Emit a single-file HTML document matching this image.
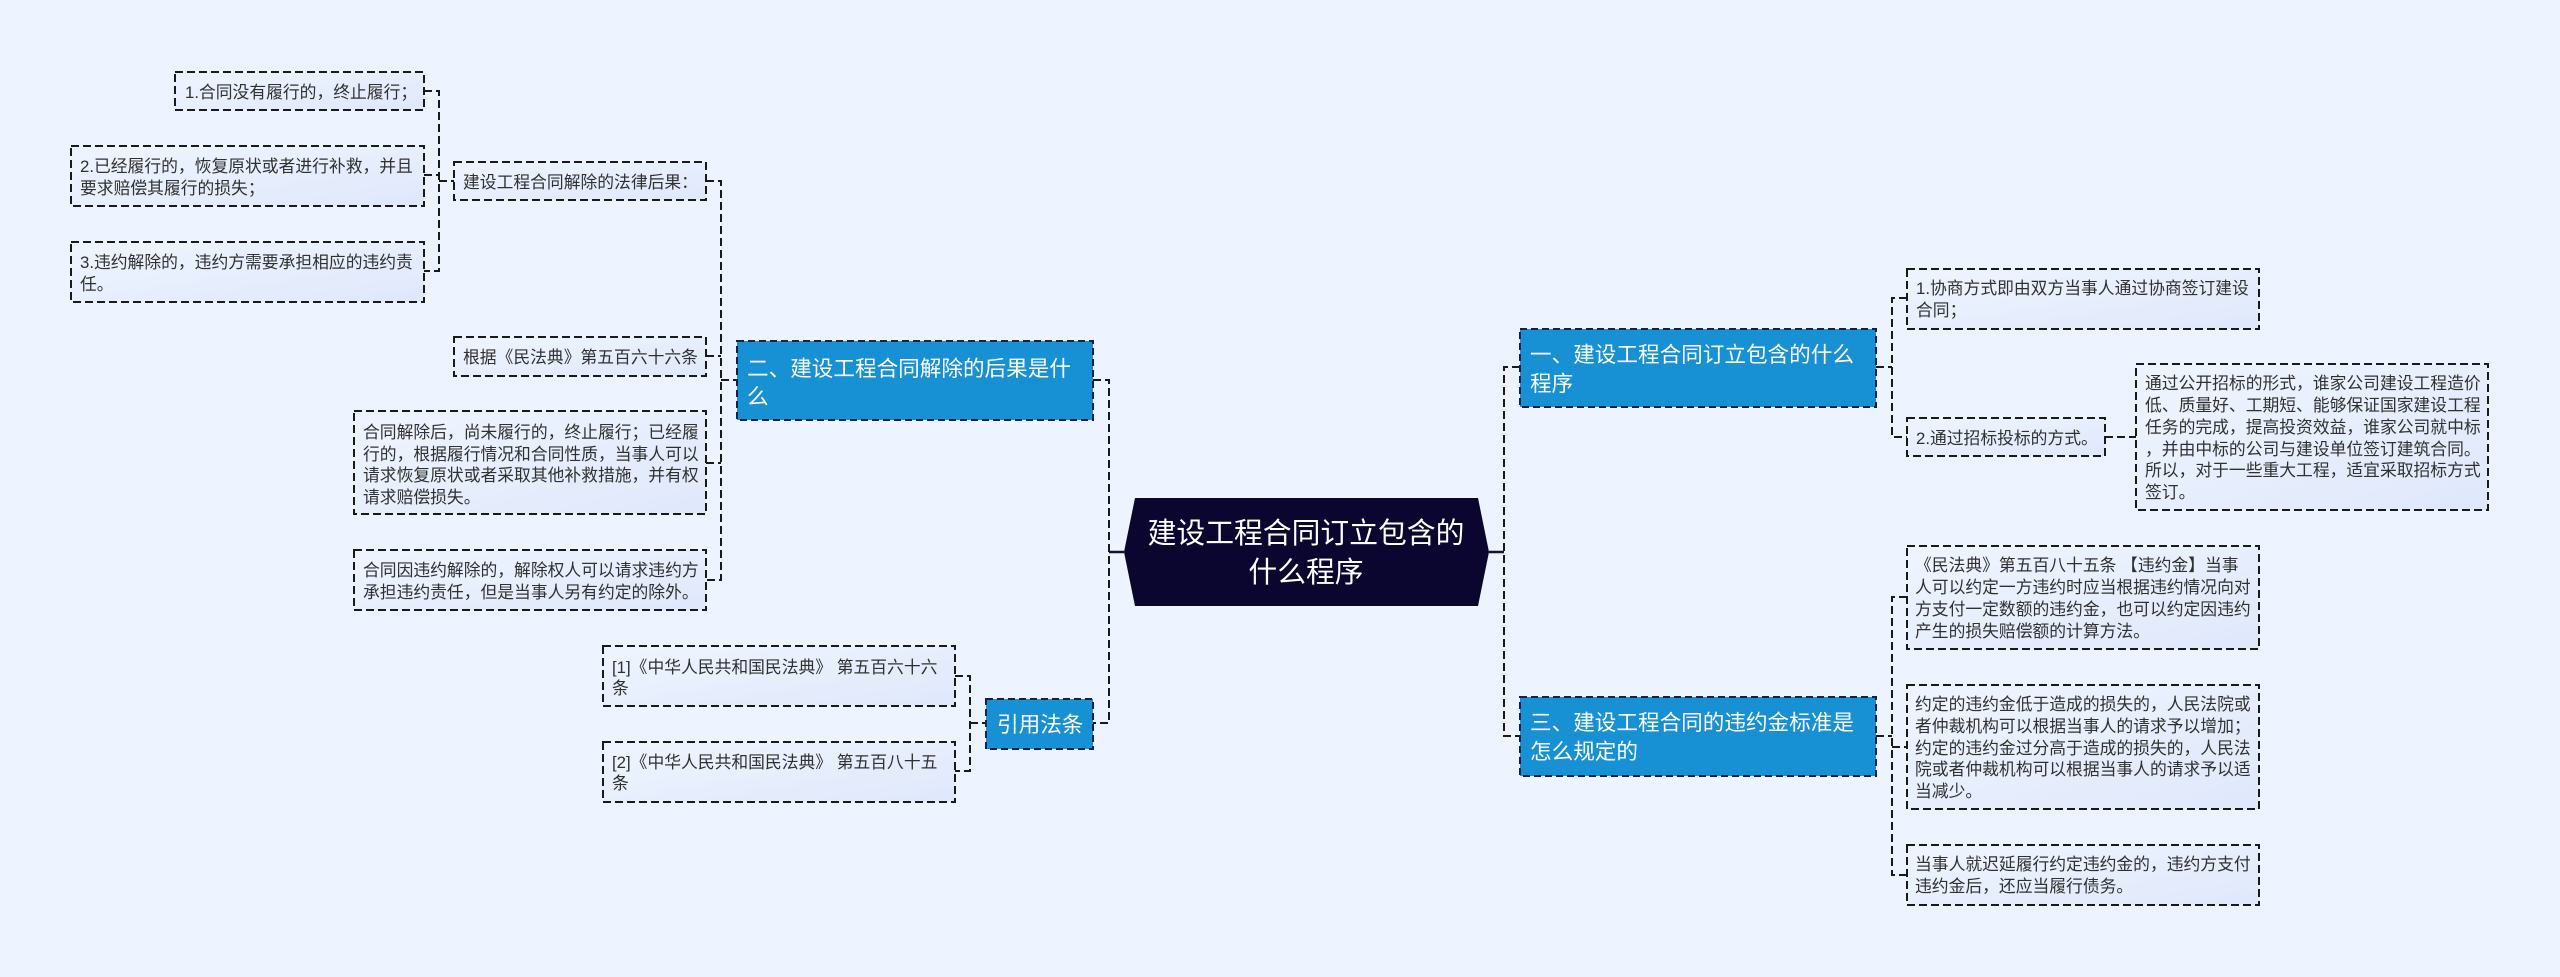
<!DOCTYPE html>
<html lang="zh"><head><meta charset="utf-8"><title>建设工程合同订立包含的什么程序</title>
<style>
html,body{margin:0;padding:0;background:#eef4ff;width:2560px;height:977px;overflow:hidden}
svg{display:block}
text{font-family:"Liberation Sans","Noto Sans CJK SC",sans-serif}
.b{fill:url(#g);stroke:#1a1a1a;stroke-width:2;stroke-dasharray:8 4}
.m{fill:#1791d3;stroke:#0f2050;stroke-width:2;stroke-dasharray:7 4}
.c{fill:none;stroke:#1a1a1a;stroke-width:2;stroke-dasharray:8 4}
.s{font-size:16.8px;fill:#303030}
.l{font-size:21.6px;fill:#fff}
.r{font-size:28.8px;fill:#fff;text-anchor:middle}
</style></head><body>
<svg width="2560" height="977" viewBox="0 0 2560 977" xmlns="http://www.w3.org/2000/svg">
<defs><linearGradient id="g" x1="0" y1="0" x2="1" y2="1"><stop offset="0" stop-color="#eff5ff"/><stop offset="1" stop-color="#dfe8fb"/></linearGradient></defs>
<rect width="2560" height="977" fill="#eef4ff"/>

<!-- connectors -->
<path class="c" d="M424 91H439V271H424M424 175H439M439 181H454"/>
<path class="c" d="M706 181H721V580H706M706 356H721M706 463H721M721 380H737"/>
<path class="c" d="M955 676H970V771H955M970 723H986"/>
<path class="c" d="M1093 380H1109V723H1093"/>
<path class="c" d="M1520 367H1504V736H1520"/>
<path class="c" d="M1876 367H1892M1907 298H1892V437H1907M2105 437H2136"/>
<path class="c" d="M1876 736H1892M1907 597H1892V875H1907M1892 747H1907"/>
<path d="M1109 552H1124M1489 552H1504" fill="none" stroke="#14122e" stroke-width="2.5"/>

<!-- boxes -->
<rect class="b" x="175" y="72" width="249" height="38"/>
<rect class="b" x="71" y="146" width="353" height="60"/>
<rect class="b" x="71" y="242" width="353" height="60"/>
<rect class="b" x="454" y="162" width="252" height="38"/>
<rect class="b" x="454" y="337" width="252" height="39"/>
<rect class="b" x="354" y="411" width="352" height="103"/>
<rect class="b" x="354" y="550" width="352" height="60"/>
<rect class="b" x="603" y="646" width="352" height="60"/>
<rect class="b" x="603" y="742" width="352" height="60"/>
<rect class="b" x="1907" y="269" width="352" height="60"/>
<rect class="b" x="1907" y="418" width="198" height="38"/>
<rect class="b" x="2136" y="364" width="352" height="146"/>
<rect class="b" x="1907" y="546" width="352" height="103"/>
<rect class="b" x="1907" y="685" width="352" height="124"/>
<rect class="b" x="1907" y="845" width="352" height="60"/>

<rect class="m" x="737" y="341" width="356" height="79"/>
<rect class="m" x="986" y="699" width="107" height="50"/>
<rect class="m" x="1520" y="329" width="356" height="78"/>
<rect class="m" x="1520" y="697" width="356" height="79"/>
<polygon points="1124,552 1135,498 1478,498 1489,552 1478,606 1135,606" fill="#0a0630"/>

<!-- text -->
<text class="r" x="1306" y="543">建设工程合同订立包含的</text>
<text class="r" x="1306" y="582">什么程序</text>

<text class="l" x="747" y="376">二、建设工程合同解除的后果是什</text>
<text class="l" x="747" y="404">么</text>
<text class="l" x="997" y="732">引用法条</text>
<text class="l" x="1530" y="362">一、建设工程合同订立包含的什么</text>
<text class="l" x="1530" y="391">程序</text>
<text class="l" x="1530" y="730">三、建设工程合同的违约金标准是</text>
<text class="l" x="1530" y="759">怎么规定的</text>

<text class="s" x="185" y="98">1.合同没有履行的，终止履行；</text>
<text class="s" x="80" y="172">2.已经履行的，恢复原状或者进行补救，并且</text>
<text class="s" x="80" y="194">要求赔偿其履行的损失；</text>
<text class="s" x="80" y="268">3.违约解除的，违约方需要承担相应的违约责</text>
<text class="s" x="80" y="290">任。</text>
<text class="s" x="463" y="188">建设工程合同解除的法律后果：</text>
<text class="s" x="463" y="363">根据《民法典》第五百六十六条</text>
<text class="s" x="363" y="438">合同解除后，尚未履行的，终止履行；已经履</text>
<text class="s" x="363" y="460">行的，根据履行情况和合同性质，当事人可以</text>
<text class="s" x="363" y="481">请求恢复原状或者采取其他补救措施，并有权</text>
<text class="s" x="363" y="503">请求赔偿损失。</text>
<text class="s" x="363" y="576">合同因违约解除的，解除权人可以请求违约方</text>
<text class="s" x="363" y="598">承担违约责任，但是当事人另有约定的除外。</text>
<text class="s" x="612" y="673">[1]《中华人民共和国民法典》 第五百六十六</text>
<text class="s" x="612" y="694">条</text>
<text class="s" x="612" y="768">[2]《中华人民共和国民法典》 第五百八十五</text>
<text class="s" x="612" y="789">条</text>

<text class="s" x="1916" y="294">1.协商方式即由双方当事人通过协商签订建设</text>
<text class="s" x="1916" y="316">合同；</text>
<text class="s" x="1916" y="444">2.通过招标投标的方式。</text>
<text class="s" x="2145" y="389">通过公开招标的形式，谁家公司建设工程造价</text>
<text class="s" x="2145" y="411">低、质量好、工期短、能够保证国家建设工程</text>
<text class="s" x="2145" y="433">任务的完成，提高投资效益，谁家公司就中标</text>
<text class="s" x="2145" y="455">，并由中标的公司与建设单位签订建筑合同。</text>
<text class="s" x="2145" y="476">所以，对于一些重大工程，适宜采取招标方式</text>
<text class="s" x="2145" y="498">签订。</text>
<text class="s" x="1915" y="571">《民法典》第五百八十五条 【违约金】当事</text>
<text class="s" x="1915" y="593">人可以约定一方违约时应当根据违约情况向对</text>
<text class="s" x="1915" y="615">方支付一定数额的违约金，也可以约定因违约</text>
<text class="s" x="1915" y="637">产生的损失赔偿额的计算方法。</text>
<text class="s" x="1915" y="710">约定的违约金低于造成的损失的，人民法院或</text>
<text class="s" x="1915" y="732">者仲裁机构可以根据当事人的请求予以增加；</text>
<text class="s" x="1915" y="754">约定的违约金过分高于造成的损失的，人民法</text>
<text class="s" x="1915" y="775">院或者仲裁机构可以根据当事人的请求予以适</text>
<text class="s" x="1915" y="797">当减少。</text>
<text class="s" x="1915" y="870">当事人就迟延履行约定违约金的，违约方支付</text>
<text class="s" x="1915" y="892">违约金后，还应当履行债务。</text>
</svg>
</body></html>
